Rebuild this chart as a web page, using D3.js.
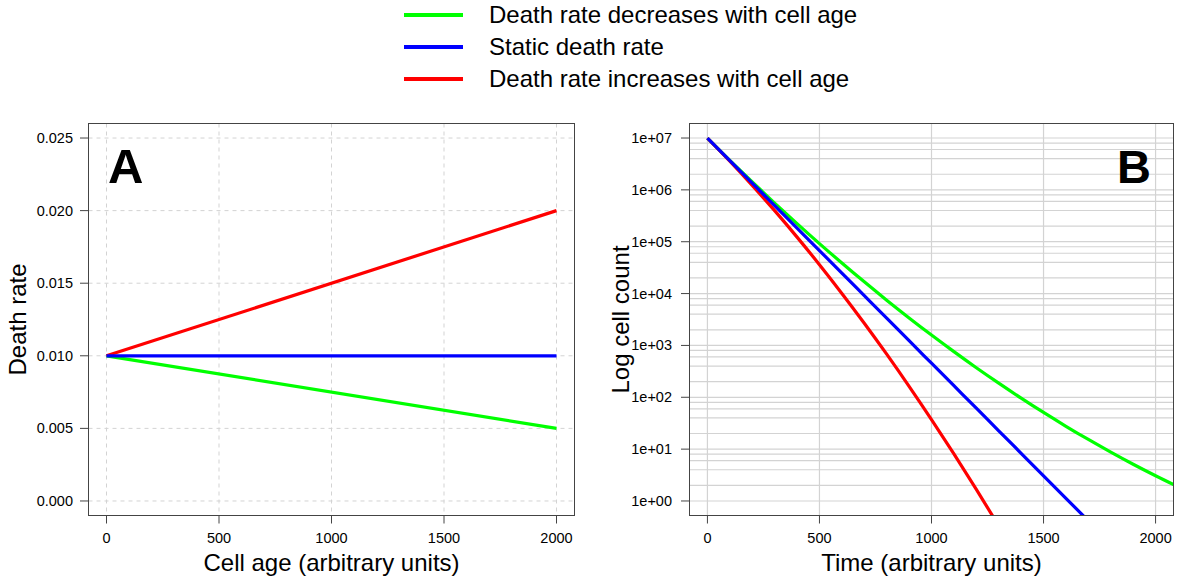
<!DOCTYPE html>
<html lang="en">
<head>
<meta charset="utf-8">
<title>Death rate and cell count</title>
<style>
  body { margin: 0; background: #fff; }
  svg { display: block; font-family: "Liberation Sans", Arial, sans-serif; }
</style>
</head>
<body>
<script src="https://d3js.org/d3.v7.min.js"></script>
<svg width="1177" height="577"></svg>
<script>
// ---- data ----
var seriesNames = ["Death rate decreases with cell age", "Static death rate", "Death rate increases with cell age"];
var seriesColors = ["#00ff00", "#0000ff", "#ff0000"];

// panel A: death rate against cell age
var ageValues = [0, 2000];
var rateDecrease = [0.010, 0.005];
var rateStatic = [0.010, 0.010];
var rateIncrease = [0.010, 0.020];
var rateTicks = [0, 0.005, 0.010, 0.015, 0.020, 0.025];

// panel B: log10 of cell count against time
var timeValues = [0, 100, 200, 300, 400, 500, 600, 700, 800, 900, 1000,
                  1100, 1200, 1300, 1400, 1500, 1600, 1700, 1800, 1900, 2000, 2100];
var logCountDecrease = [7, 6.571, 6.153, 5.746, 5.350, 4.964, 4.590, 4.226, 3.873, 3.531, 3.200,
                        2.880, 2.570, 2.272, 1.984, 1.707, 1.441, 1.186, 0.942, 0.708, 0.486, 0.274];
var logCountStatic = [7, 6.566, 6.131, 5.697, 5.263, 4.829, 4.394, 3.960, 3.526, 3.091, 2.657,
                      2.223, 1.789, 1.354, 0.920, 0.486, 0.051, -0.383];
var logCountIncrease = [7, 6.555, 6.088, 5.599, 5.089, 4.557, 4.003, 3.428, 2.831, 2.212, 1.571,
                        0.909, 0.225, -0.481];
var countTicks = [1e0, 1e1, 1e2, 1e3, 1e4, 1e5, 1e6, 1e7];
var gridMultipliers = [1, 2, 4, 6, 8];

var xTicks = [0, 500, 1000, 1500, 2000];

var svg = d3.select("svg");
var boxTop = 123.5, boxBottom = 515.5;

// ---- legend ----
var legend = svg.append("g");
seriesNames.forEach(function (name, i) {
  var y = 15 + i * 32;
  legend.append("line")
    .attr("x1", 404).attr("x2", 463).attr("y1", y).attr("y2", y)
    .attr("stroke", seriesColors[i]).attr("stroke-width", 4);
  legend.append("text")
    .attr("x", 489).attr("y", y + 8)
    .attr("font-size", 24)
    .text(name);
});

function drawFrame(g, x, y, left, right, yTickVals, yFmt, labelRight, tickStart) {
  // axis ticks, drawn outside the box like R does
  g.selectAll(".xt").data(xTicks).enter().append("line")
    .attr("x1", function (d) { return x(d); }).attr("x2", function (d) { return x(d); })
    .attr("y1", boxBottom).attr("y2", boxBottom + 8)
    .attr("stroke", "#444");
  g.selectAll(".xl").data(xTicks).enter().append("text")
    .attr("x", function (d) { return x(d); }).attr("y", 543)
    .attr("text-anchor", "middle").attr("font-size", 14.5)
    .text(function (d) { return d; });
  g.selectAll(".yt").data(yTickVals).enter().append("line")
    .attr("x1", tickStart).attr("x2", left)
    .attr("y1", function (d) { return y(d); }).attr("y2", function (d) { return y(d); })
    .attr("stroke", "#444");
  g.selectAll(".yl").data(yTickVals).enter().append("text")
    .attr("x", labelRight).attr("y", function (d) { return y(d) + 5; })
    .attr("text-anchor", "end").attr("font-size", 14.5)
    .text(yFmt);
  g.append("rect")
    .attr("x", left).attr("y", boxTop)
    .attr("width", right - left).attr("height", boxBottom - boxTop)
    .attr("fill", "none").attr("stroke", "#444").attr("stroke-width", 1);
}

// ---- panel A ----
var aLeft = 88.5, aRight = 574.5;
var xA = d3.scaleLinear().domain([-80, 2080]).range([aLeft, aRight]);
var yA = d3.scaleLinear().domain([-0.001, 0.026]).range([boxBottom, boxTop]);
var gA = svg.append("g");

gA.selectAll(".gx").data(xTicks).enter().append("line")
  .attr("x1", function (d) { return xA(d); }).attr("x2", function (d) { return xA(d); })
  .attr("y1", boxTop).attr("y2", boxBottom)
  .attr("stroke", "#d3d3d3").attr("stroke-dasharray", "4,4");
gA.selectAll(".gy").data(rateTicks).enter().append("line")
  .attr("x1", aLeft).attr("x2", aRight)
  .attr("y1", function (d) { return yA(d); }).attr("y2", function (d) { return yA(d); })
  .attr("stroke", "#d3d3d3").attr("stroke-dasharray", "4,4");

var lineA = d3.line()
  .x(function (d) { return xA(d[0]); })
  .y(function (d) { return yA(d[1]); });
[[rateDecrease, 0], [rateIncrease, 2], [rateStatic, 1]].forEach(function (s) {
  gA.append("path")
    .datum(ageValues.map(function (a, i) { return [a, s[0][i]]; }))
    .attr("d", lineA).attr("fill", "none")
    .attr("stroke", seriesColors[s[1]]).attr("stroke-width", 3.2);
});

drawFrame(gA, xA, yA, aLeft, aRight, rateTicks, d3.format(".3f"), 73, 80);

gA.append("text")
  .attr("x", 108).attr("y", 183)
  .attr("font-size", 49).attr("font-weight", "bold")
  .text("A");
gA.append("text")
  .attr("x", (aLeft + aRight) / 2).attr("y", 571)
  .attr("text-anchor", "middle").attr("font-size", 24)
  .text("Cell age (arbitrary units)");
gA.append("text")
  .attr("transform", "translate(26," + (boxTop + boxBottom) / 2 + ") rotate(-90)")
  .attr("text-anchor", "middle").attr("font-size", 24)
  .text("Death rate");

// ---- panel B ----
var bLeft = 689.5, bRight = 1173.5;
var xB = d3.scaleLinear().domain([-80, 2080]).range([bLeft, bRight]);
var yB = d3.scaleLog().domain([Math.pow(10, -0.28), Math.pow(10, 7.28)]).range([boxBottom, boxTop]);
var gB = svg.append("g");

var gridVals = [];
countTicks.forEach(function (t) {
  gridMultipliers.forEach(function (m) {
    var v = t * m;
    if (v <= yB.domain()[1]) gridVals.push(v);
  });
});
gB.selectAll(".gy").data(gridVals).enter().append("line")
  .attr("x1", bLeft).attr("x2", bRight)
  .attr("y1", function (d) { return yB(d); }).attr("y2", function (d) { return yB(d); })
  .attr("stroke", "#d3d3d3").attr("stroke-width", 1.2);
gB.selectAll(".gx").data(xTicks).enter().append("line")
  .attr("x1", function (d) { return xB(d); }).attr("x2", function (d) { return xB(d); })
  .attr("y1", boxTop).attr("y2", boxBottom)
  .attr("stroke", "#d3d3d3").attr("stroke-width", 1.2);

svg.append("clipPath").attr("id", "clipB")
  .append("rect").attr("x", bLeft).attr("y", boxTop)
  .attr("width", bRight - bLeft).attr("height", boxBottom - boxTop);

var lineB = d3.line()
  .curve(d3.curveMonotoneX)
  .x(function (d) { return xB(d[0]); })
  .y(function (d) { return yB(Math.pow(10, d[1])); });
var curves = [[logCountDecrease, 0], [logCountIncrease, 2], [logCountStatic, 1]];
curves.forEach(function (c) {
  gB.append("path")
    .datum(c[0].map(function (v, i) { return [timeValues[i], v]; }))
    .attr("d", lineB).attr("fill", "none")
    .attr("clip-path", "url(#clipB)")
    .attr("stroke", seriesColors[c[1]]).attr("stroke-width", 3.2);
});

drawFrame(gB, xB, yB, bLeft, bRight, countTicks, function (d) {
  var e = Math.round(Math.log10(d));
  return "1e+" + (e < 10 ? "0" : "") + e;
}, 672, 681);

gB.append("text")
  .attr("x", 1117).attr("y", 183)
  .attr("font-size", 47).attr("font-weight", "bold")
  .text("B");
gB.append("text")
  .attr("x", (bLeft + bRight) / 2).attr("y", 571)
  .attr("text-anchor", "middle").attr("font-size", 24)
  .text("Time (arbitrary units)");
gB.append("text")
  .attr("transform", "translate(629," + (boxTop + boxBottom) / 2 + ") rotate(-90)")
  .attr("text-anchor", "middle").attr("font-size", 24)
  .text("Log cell count");
</script>
</body>
</html>
